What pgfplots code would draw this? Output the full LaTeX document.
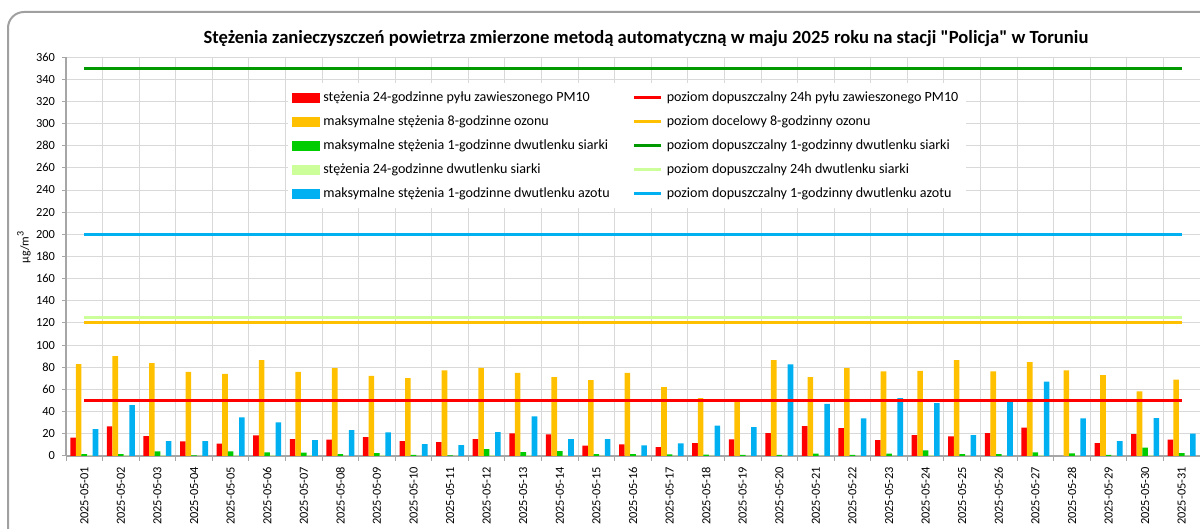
\documentclass[border=0pt]{standalone}
\usepackage{fontspec}
\setmainfont{Carlito}
\newfontfamily\titlefont{Carlito}[Ligatures=TeXOff]
\usepackage{pgfplots}
\pgfplotsset{compat=1.18}
\usepackage{pgfplotstable}
\definecolor{cRed}{HTML}{FF0000}
\definecolor{cOrange}{HTML}{FFC000}
\definecolor{cGreen}{HTML}{00CC00}
\definecolor{cDGreen}{HTML}{009900}
\definecolor{cLGreen}{HTML}{CCFF99}
\definecolor{cBlue}{HTML}{00B0F0}
\definecolor{cGrid}{HTML}{D9D9D9}
\definecolor{cAxis}{HTML}{A6A6A6}
\definecolor{cFrame}{HTML}{A0A0A0}
\pgfplotstableread{
day pm o3 so2 so2d no2
1 16.5 82.9 1.8 0.5 24.3
2 26.7 90.0 1.8 0.6 46.0
3 18.0 83.8 4.2 0.5 13.5
4 13.2 76.0 0.6 0.4 13.5
5 11.1 74.2 4.2 0.5 34.8
6 18.6 86.5 3.3 0.5 30.3
7 15.3 76.0 3.0 0.5 14.4
8 14.7 79.3 1.8 0.4 23.4
9 17.1 72.4 2.7 0.5 21.3
10 13.5 70.3 0.9 0.3 10.8
11 12.6 77.2 0.6 0.3 9.9
12 15.3 79.6 6.3 0.5 21.6
13 20.4 75.1 3.6 0.5 35.7
14 19.5 71.2 4.5 0.5 15.3
15 9.3 68.5 1.8 0.4 15.3
16 10.5 75.1 1.8 0.4 9.6
17 8.1 62.2 1.5 0.4 11.4
18 11.7 52.3 1.2 0.3 27.3
19 15.0 49.5 0.9 0.3 26.1
20 20.7 86.5 0.9 0.3 82.6
21 27.0 71.2 2.1 0.4 47.1
22 25.2 79.3 0.9 0.3 33.9
23 14.4 76.3 2.1 0.4 52.3
24 18.9 76.9 5.1 0.5 47.7
25 17.7 86.5 1.8 0.4 18.9
26 20.7 76.3 1.8 0.4 48.6
27 25.5 84.7 3.3 0.5 67.0
28 nan 77.2 2.4 0.4 33.9
29 11.7 73.0 0.9 0.3 13.5
30 19.8 58.3 7.5 0.5 34.2
31 14.7 68.8 2.7 0.4 20.1
}\data
\begin{document}
\begin{tikzpicture}
\useasboundingbox (0,0) rectangle (600pt,264.5pt);
\draw[cFrame, line width=1pt, rounded corners=8pt] (4pt,-20pt) -- (4pt,258.5pt) -- (640pt,258.5pt);
\node[font=\titlefont\bfseries\fontsize{9.3}{11}\selectfont] at (323pt,245pt) {Stężenia zanieczyszczeń powietrza zmierzone metodą automatyczną w maju 2025 roku na stacji "Policja" w Toruniu};
\node[rotate=90, font=\fontsize{6}{7}\selectfont] at (12pt,141pt) {µg/m\textsuperscript{3}};
\begin{axis}[
  at={(33pt,36.5pt)}, anchor=south west,
  width=567pt, height=199.5pt, scale only axis,
  xmin=0.5, xmax=31.5, ymin=0, ymax=360,
  ytick={0,20,...,360},
  xtick={1,...,31},
  xticklabels={2025-05-01,2025-05-02,2025-05-03,2025-05-04,2025-05-05,2025-05-06,2025-05-07,2025-05-08,2025-05-09,2025-05-10,2025-05-11,2025-05-12,2025-05-13,2025-05-14,2025-05-15,2025-05-16,2025-05-17,2025-05-18,2025-05-19,2025-05-20,2025-05-21,2025-05-22,2025-05-23,2025-05-24,2025-05-25,2025-05-26,2025-05-27,2025-05-28,2025-05-29,2025-05-30,2025-05-31},
  minor xtick={0.5,1.5,...,31.5},
  xminorgrids=true, ymajorgrids=true,
  grid style={cGrid, line width=0.5pt},
  minor grid style={cGrid, line width=0.5pt},
  axis x line*=bottom, axis y line*=left,
  axis line style={cAxis, line width=0.6pt},
  tick align=outside,
  major x tick style={draw=none},
  minor x tick style={cAxis, line width=0.5pt},
  ytick style={cAxis, line width=0.5pt},
  major tick length=2pt, minor tick length=2.5pt,
  /pgf/number format/assume math mode=true,
  xticklabel style={rotate=90, anchor=east, font=\fontsize{6.2}{7}\selectfont},
  yticklabel style={font=\fontsize{6.2}{7}\selectfont},
  legend columns=2,
  legend cell align=left,
  legend style={at={(0.195,0.935)}, anchor=north west, draw=none, fill=white,
    font=\fontsize{7.04}{8}\selectfont, row sep=1.6pt, inner sep=2pt,
    /tikz/every even column/.append style={column sep=9.5pt}},
]
\addlegendimage{legend image code/.code={\fill[cRed] (0pt,-2.2pt) rectangle (13.5pt,2.2pt);}}
\addlegendentry{stężenia 24-godzinne pyłu zawieszonego PM10}
\addlegendimage{legend image code/.code={\draw[cRed,line width=1.5pt] (0pt,0pt) -- (13.5pt,0pt);}}
\addlegendentry{poziom dopuszczalny 24h pyłu zawieszonego PM10}
\addlegendimage{legend image code/.code={\fill[cOrange] (0pt,-2.2pt) rectangle (13.5pt,2.2pt);}}
\addlegendentry{maksymalne stężenia 8-godzinne ozonu}
\addlegendimage{legend image code/.code={\draw[cOrange,line width=1.5pt] (0pt,0pt) -- (13.5pt,0pt);}}
\addlegendentry{poziom docelowy 8-godzinny ozonu}
\addlegendimage{legend image code/.code={\fill[cGreen] (0pt,-2.2pt) rectangle (13.5pt,2.2pt);}}
\addlegendentry{maksymalne stężenia 1-godzinne dwutlenku siarki}
\addlegendimage{legend image code/.code={\draw[cDGreen,line width=1.5pt] (0pt,0pt) -- (13.5pt,0pt);}}
\addlegendentry{poziom dopuszczalny 1-godzinny dwutlenku siarki}
\addlegendimage{legend image code/.code={\fill[cLGreen] (0pt,-2.2pt) rectangle (13.5pt,2.2pt);}}
\addlegendentry{stężenia 24-godzinne dwutlenku siarki}
\addlegendimage{legend image code/.code={\draw[cLGreen,line width=1.5pt] (0pt,0pt) -- (13.5pt,0pt);}}
\addlegendentry{poziom dopuszczalny 24h dwutlenku siarki}
\addlegendimage{legend image code/.code={\fill[cBlue] (0pt,-2.2pt) rectangle (13.5pt,2.2pt);}}
\addlegendentry{maksymalne stężenia 1-godzinne dwutlenku azotu}
\addlegendimage{legend image code/.code={\draw[cBlue,line width=1.5pt] (0pt,0pt) -- (13.5pt,0pt);}}
\addlegendentry{poziom dopuszczalny 1-godzinny dwutlenku azotu}
\addplot[ybar, bar width=0.153, bar shift=-0.306, fill=cRed, draw=none, forget plot] table[x=day,y=pm]{\data};
\addplot[ybar, bar width=0.153, bar shift=-0.153, fill=cOrange, draw=none, forget plot] table[x=day,y=o3]{\data};
\addplot[ybar, bar width=0.153, bar shift=0, fill=cGreen, draw=none, forget plot] table[x=day,y=so2]{\data};
\addplot[ybar, bar width=0.153, bar shift=0.153, fill=cLGreen, draw=none, forget plot] table[x=day,y=so2d]{\data};
\addplot[ybar, bar width=0.153, bar shift=0.306, fill=cBlue, draw=none, forget plot] table[x=day,y=no2]{\data};
\addplot[cLGreen, line width=1.5pt, forget plot] coordinates {(1,125) (31,125)};
\addplot[cOrange, line width=1.5pt, forget plot] coordinates {(1,120) (31,120)};
\addplot[cBlue, line width=1.5pt, forget plot] coordinates {(1,200) (31,200)};
\addplot[cDGreen, line width=1.5pt, forget plot] coordinates {(1,350) (31,350)};
\addplot[cRed, line width=1.5pt, forget plot] coordinates {(1,50) (31,50)};
\end{axis}
\end{tikzpicture}
\end{document}
